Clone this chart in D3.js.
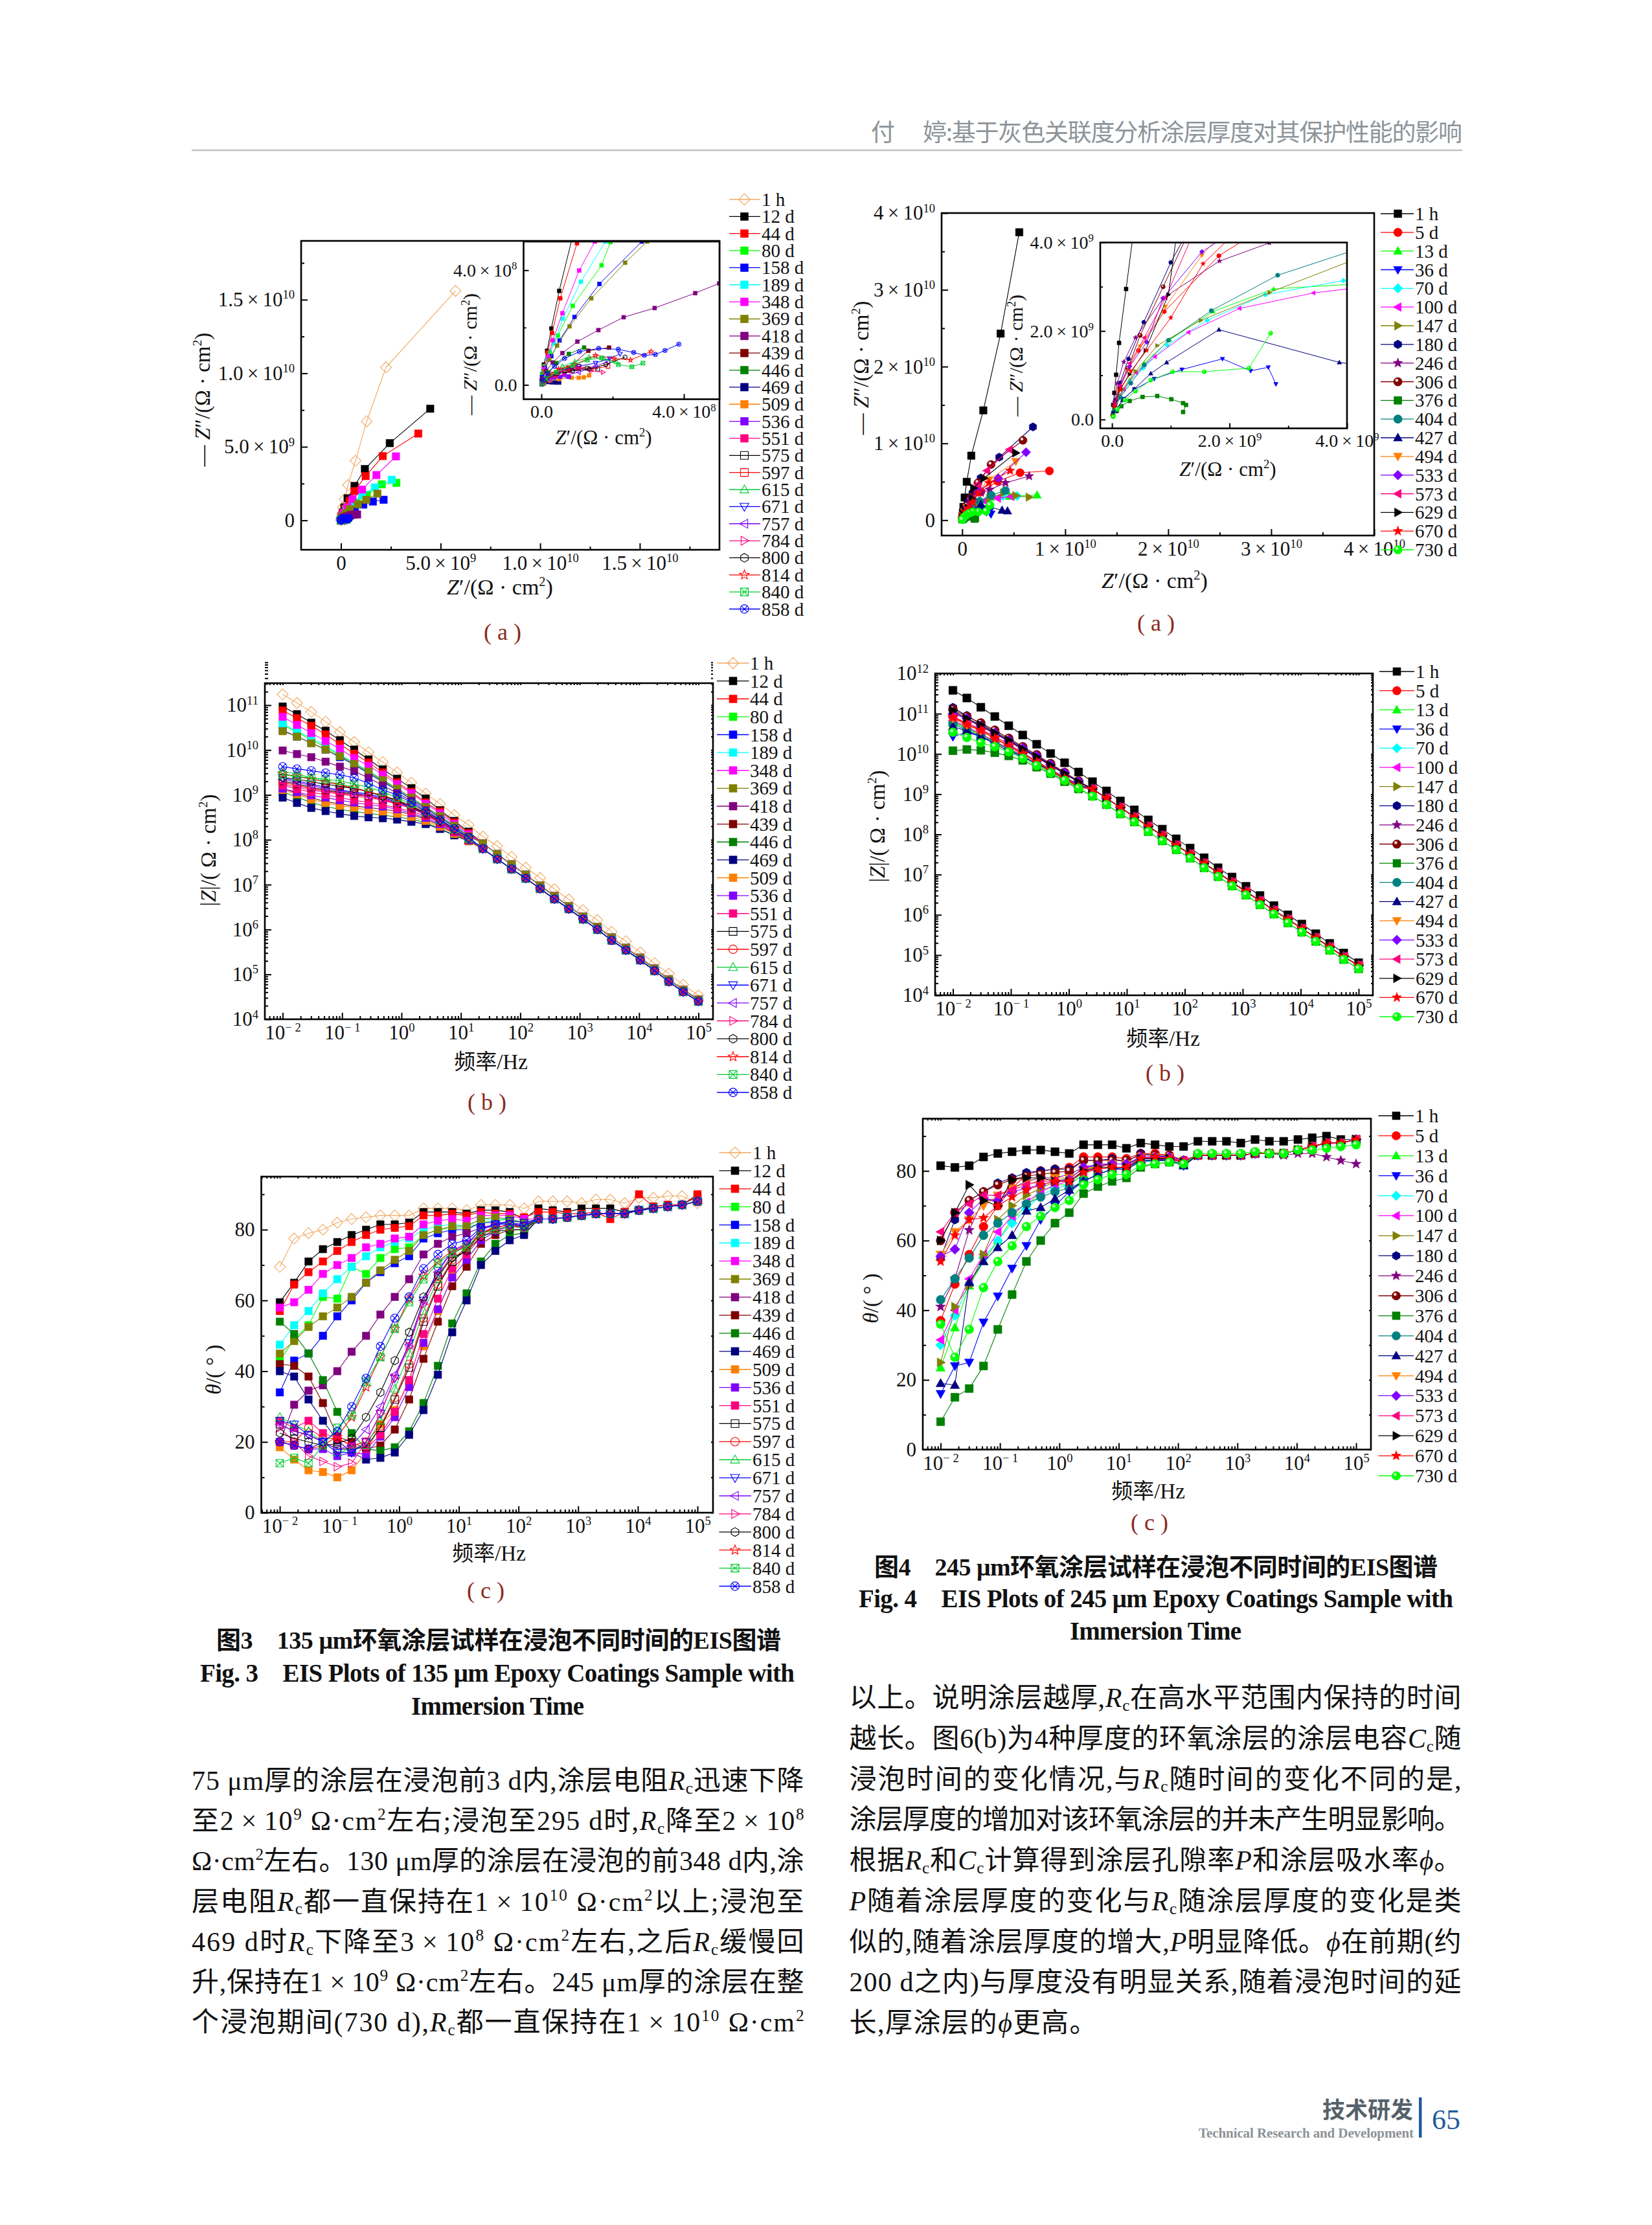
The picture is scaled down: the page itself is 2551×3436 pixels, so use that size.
<!DOCTYPE html>
<html><head><meta charset="utf-8">
<style>html,body{margin:0;background:#fff}svg{display:block}</style>
<script src="https://d3js.org/d3.v7.min.js"></script></head><body>
<script>
const labels135=["1 h","12 d","44 d","80 d","158 d","189 d","348 d","369 d","418 d","439 d","446 d","469 d","509 d","536 d","551 d","575 d","597 d","615 d","671 d","757 d","784 d","800 d","814 d","840 d","858 d"];
const labels245=["1 h","5 d","13 d","36 d","70 d","100 d","147 d","180 d","246 d","306 d","376 d","404 d","427 d","494 d","533 d","573 d","629 d","670 d","730 d"];
const freq=[0.01,0.0174,0.0303,0.0528,0.0919,0.16,0.279,0.485,0.845,1.47,2.56,4.46,7.76,13.5,23.5,41,71.3,124,216,376,655,1140,1985,3456,6016,10470,18230,31700,55250,100000];

// Fig.3(a) Nyquist, units of 1e8 ohm cm2
const nyq135X=[
[57.5,22.6,12.9,7.3,3.5,1.9,1,.6,.2,.02],
[44.8,24.5,12,6.8,3.3,1.7,.9,.5,.28,.16,.07,.03,.01],
[38.8,21,12.4,6.8,4.3,2.2,1,.53,.3,.17,.07,.02],
[27.8,20.5,13,7.5,4.4,1.94,1.69,.88,.46,.24,.09,.02],
[21.4,16,11.2,7,4.4,2.82,1.63,.93,.51,.28,.1,.02],
[25.5,17,10.6,5.8,2.9,1.8,1.11,.6,.35,.17,.05],
[27.6,17.8,10.6,5.8,3.2,1.5,1.06,.59,.32,.19,.06],
[18.3,12.7,8.5,4.4,2.97,2.35,1.4,.79,.44,.22,.07],
[8.1,6.4,4.99,4.32,3.18,2.31,1.6,1.01,.59,.32,.13,.03],
[1.9,1.32,.76,.45,.2,.07],
[1.2,.77,.42,.19,.05],
[.5,.4,.3,.22,.12,.05,.01],
[1.34,1.19,1.05,.85,.5,.25,.08],
[.77,.53,.36,.18,.05],
[1.05,.79,.65,.4,.15,.04],
[1.58,1.29,.94,.65,.3,.08],
[1.87,1.4,1.05,.71,.3,.08],
[2.1,1.75,1.34,.94,.59,.24,.06],
[2.21,1.92,1.52,1.05,.53,.19,.05],
[1.87,1.52,1.05,.65,.24,.05],
[1.73,1.4,1,.53,.19,.04],
[2.35,1.81,1.34,.88,.42,.13,.03],
[3.08,2.5,2.04,1.52,.94,.48,.19,.04],
[2.85,2.54,2.16,1.69,1.29,.88,.42,.13,.03],
[3.86,3.47,3.2,2.89,2.59,2.16,1.61,1.07,.65,.37,.17,.05]];
const nyq135Y=[
[156,104,67.3,40.5,24,14.4,8.8,4.6,1.5,.1],
[75.9,52.5,34.9,23.4,15,8.8,5.3,3.28,1.97,1.19,.71,.38,.17],
[59,43.7,30.1,19.9,13,8,4.94,3.02,1.81,1.13,.65,.33],
[25.5,24.5,17.2,11.9,7.7,4.98,4.17,2.76,1.72,1.13,.65,.33],
[14,12.8,10.7,8.2,6.2,5,3.52,2.37,1.55,1,.6,.28],
[27.6,22.4,17.2,12,7.7,5,3.6,2.31,1.45,.92,.49],
[43.5,30.8,20.9,14.4,8.8,5,3.99,2.5,1.56,.97,.55],
[18.2,14,10.9,7.7,5,4.26,3.02,2.04,1.37,.87,.47],
[4,3.9,3.54,3.2,2.68,2.36,1.91,1.51,1.11,.78,.49,.22],
[1.3,1.19,.6,.38,.2,.08],
[1.3,1.08,.76,.44,.1],
[.08,.08,.09,.1,.1,.07,.02],
[.33,.26,.25,.25,.2,.15,.06],
[.28,.28,.26,.22,.08],
[.58,.49,.38,.3,.2,.06],
[.55,.58,.58,.49,.38,.12],
[.65,.55,.65,.55,.38,.12],
[.81,.92,.97,.81,.65,.38,.1],
[1.08,.92,.76,.65,.49,.28,.08],
[.81,.65,.44,.33,.17,.05],
[.44,.49,.6,.49,.28,.06],
[.97,.71,.55,.49,.38,.19,.05],
[1.16,.87,.92,1.03,.71,.55,.33,.07],
[.76,.63,.71,.94,.87,.68,.44,.22,.05],
[1.42,1.2,1.06,1.03,1.13,1.24,1.27,1.16,.92,.65,.38,.15]];

// Fig.4(a) Nyquist, units of 1e9 ohm cm2
const nyq245X=[
[5.54,3.73,2.05,.88,.44,.24,.12,.07,.04,.02],
[8.47,5.62,3.45,1.82,.89,.45,.27,.14,.06,.01],
[7.27,4.6,2.75,1.72,.98,.55,.3,.13,.04],
[2.79,2.66,2.36,1.88,1.19,.72,.38,.2,.07],
[5.34,3.94,2.61,1.62,.94,.53,.3,.13,.04],
[4.74,3.43,2.17,1.3,.73,.41,.2,.06],
[6.5,5.2,4.02,2.68,1.51,.77,.4,.18,.06],
[6.87,3.6,1.8,1,.54,.28,.14,.06,.02],
[6.5,4.2,2.68,1.83,.87,.4,.2,.09,.04],
[5.9,2.8,1.53,.87,.48,.27,.13,.04],
[1.21,1.26,1.21,1.01,.77,.52,.3,.16,.08,.02],
[4.2,2.82,1.69,.96,.55,.32,.14,.04],
[4.4,3.87,1.82,.93,.66,.38,.18,.06],
[5.2,2.6,1.53,.91,.48,.25,.11,.04],
[6.2,3.5,1.53,.87,.59,.3,.14,.04],
[4.6,2.4,1.53,.91,.55,.3,.13,.04],
[5.2,2.1,1.1,.96,.57,.3,.14,.04],
[4.66,2.6,1.55,1,.59,.32,.14,.04],
[2.7,2.33,1.57,1.03,.66,.4,.22,.09,.02]];
const nyq245Y=[
[37.5,24.3,14.3,8.4,5,2.95,1.73,1.01,.6,.33],
[6.41,6.18,5.06,3.7,2.44,1.56,1.16,.75,.37,.1],
[3.27,3.1,2.95,2.44,1.8,1.27,.89,.54,.23],
[.8,1.18,1.1,1.37,1.13,.92,.68,.47,.23],
[3.15,3.14,2.82,2.24,1.68,1.16,.85,.5,.23],
[3.07,2.86,2.51,1.97,1.42,1.06,.68,.33],
[3,3.2,3.56,2.87,2.24,1.67,1.09,.68,.33],
[12.15,8.2,5.5,3.55,2.2,1.37,.83,.44,.16],
[5.74,4.86,3.99,3.58,2.74,1.85,1.3,.82,.4],
[10.4,7.25,4.86,3,1.9,1.16,.71,.33],
[.17,.33,.37,.46,.53,.51,.42,.3,.19,.09],
[3.86,3.26,2.46,1.79,1.23,.82,.5,.23],
[1.2,1.29,2.03,1.29,1.04,.69,.44,.19],
[7.65,5.26,3.71,2.55,1.65,1.09,.64,.3],
[8.85,5.46,3.79,2.74,1.75,1.2,.75,.33],
[9.2,6.45,4.66,2.75,1.85,1.27,.75,.33],
[8.76,5.46,4.18,2.82,1.56,1.02,.68,.3],
[6.45,4.86,3.52,2.3,1.56,1.09,.68,.3],
[1.95,1.16,1.08,1.08,.89,.64,.44,.23,.06]];

// Fig.3(b) log10|Z|
const z135=[
[11.24,11.05,10.85,10.63,10.40,10.18,9.95,9.73,9.50,9.27,9.03,8.80,8.55,8.33,8.07,7.86,7.62,7.38,7.15,6.90,6.67,6.43,6.21,5.95,5.74,5.49,5.25,5.02,4.77,4.53],
[10.97,10.8,10.61,10.43,10.22,10.01,9.79,9.57,9.36,9.15,8.92,8.66,8.42,8.18],
[10.88,10.71,10.54,10.35,10.13,9.92,9.72,9.5,9.28,9.07,8.83,8.63,8.39,8.15],
[10.56,10.4,10.23,10.06,9.88,9.69,9.49,9.31,9.11,8.9,8.71,8.5,8.3,8.09],
[10.44,10.3,10.16,10.01,9.84,9.67,9.48,9.29,9.11,8.9,8.7,8.49,8.29,8.08],
[10.59,10.42,10.27,10.1,9.9,9.72,9.54,9.34,9.14,8.94,8.73,8.53,8.32,8.1],
[10.74,10.56,10.38,10.2,10.03,9.82,9.65,9.45,9.24,9.04,8.8,8.59,8.35,8.12],
[10.42,10.3,10.15,10.01,9.86,9.69,9.52,9.33,9.14,8.94,8.73,8.53,8.31,8.08],
[9.99,9.91,9.84,9.74,9.63,9.53,9.38,9.21,9.04,8.87,8.66,8.46,8.25,8.06],
[9.14,9.04,8.94,8.85,8.8,8.75,8.72,8.68,8.64,8.56,8.46,8.32,8.15,7.98],
[9.07,8.95,8.83,8.74,8.68,8.63,8.59,8.55,8.51,8.46,8.38,8.25,8.1,7.97],
[8.94,8.82,8.71,8.64,8.58,8.53,8.5,8.48,8.45,8.4,8.35,8.24,8.1,7.97],
[9.11,9.02,8.9,8.82,8.76,8.72,8.66,8.63,8.58,8.51,8.42,8.29,8.13,7.97],
[9.14,9.06,8.99,8.94,8.88,8.83,8.78,8.74,8.68,8.59,8.49,8.35,8.17,7.99],
[9.21,9.13,9.06,9,8.94,8.88,8.83,8.78,8.71,8.63,8.53,8.38,8.18,8.01],
[9.31,9.24,9.17,9.11,9.06,9.02,8.97,8.9,8.81,8.7,8.56,8.39,8.2,8.01],
[9.28,9.21,9.14,9.09,9.04,9,8.97,8.9,8.81,8.7,8.56,8.39,8.2,8.01],
[9.52,9.47,9.38,9.31,9.24,9.17,9.07,8.97,8.9,8.76,8.59,8.42,8.22,8.03],
[9.38,9.31,9.24,9.17,9.11,9.06,9.02,8.94,8.85,8.73,8.59,8.42,8.22,8.01],
[9.35,9.28,9.21,9.14,9.09,9.04,8.99,8.92,8.83,8.72,8.58,8.4,8.22,8.01],
[9.24,9.17,9.11,9.06,9.02,8.97,8.94,8.88,8.8,8.7,8.56,8.39,8.2,8.01],
[9.39,9.35,9.29,9.24,9.19,9.14,9.07,8.97,8.87,8.73,8.59,8.42,8.24,8.03],
[9.47,9.41,9.35,9.29,9.22,9.15,9.07,8.99,8.88,8.76,8.61,8.42,8.24,8.03],
[9.45,9.41,9.38,9.35,9.31,9.24,9.17,9.07,8.94,8.8,8.63,8.44,8.24,8.03],
[9.63,9.58,9.54,9.49,9.45,9.38,9.26,9.11,9,8.83,8.63,8.44,8.25,8.05]];
const zTail135Upper=[7.92,7.68,7.45,7.22,6.98,6.75,6.52,6.29,6.06,5.82,5.59,5.37,5.13,4.89,4.66,4.44];
const zTail135Lower=[7.8,7.57,7.35,7.14,6.91,6.68,6.46,6.23,6,5.76,5.54,5.32,5.08,4.84,4.61,4.4];

// Fig.4(b) log10|Z|
const z245=[
[11.58,11.39,11.16,10.93,10.7,10.47,10.24,10.01,9.78,9.55,9.31,9.08,8.83,8.61,8.36,8.13,7.89,7.66,7.42,7.17,6.94,6.71,6.48,6.23,6,5.77,5.53,5.29,5.05,4.81],
[10.93,10.77,10.61,10.43,10.24,10.03,9.82,9.6,9.37,9.17],
[10.77,10.62,10.47,10.29,10.11,9.93,9.76,9.56,9.37,9.17],
[10.43,10.54,10.43,10.29,10.11,9.93,9.75,9.56,9.39,9.2],
[10.79,10.65,10.47,10.29,10.11,9.94,9.76,9.56,9.37,9.17],
[10.83,10.68,10.5,10.32,10.14,9.96,9.76,9.56,9.37,9.17],
[10.81,10.65,10.48,10.3,10.12,9.95,9.75,9.56,9.37,9.17],
[11.15,10.95,10.75,10.55,10.36,10.16,9.95,9.75,9.53,9.31],
[11.04,10.86,10.68,10.5,10.31,10.11,9.91,9.71,9.51,9.3],
[11.11,10.93,10.77,10.59,10.39,10.18,9.98,9.76,9.54,9.33],
[10.08,10.11,10.09,10.03,9.95,9.84,9.67,9.51,9.31,9.13],
[10.74,10.59,10.44,10.29,10.11,9.94,9.76,9.59,9.4,9.23],
[10.68,10.57,10.43,10.25,10.07,9.93,9.76,9.6,9.42,9.24],
[10.88,10.72,10.57,10.38,10.19,10,9.8,9.6,9.4,9.18],
[11,10.88,10.7,10.52,10.34,10.14,9.95,9.73,9.53,9.31],
[10.9,10.77,10.59,10.39,10.21,10.02,9.82,9.62,9.42,9.2],
[11.08,10.88,10.72,10.52,10.34,10.12,9.93,9.72,9.51,9.3],
[10.91,10.73,10.59,10.39,10.19,10,9.8,9.6,9.39,9.18],
[10.54,10.41,10.28,10.18,10.05,9.89,9.71,9.53,9.34,9.15]];
const zTail245Upper=[9.13,8.9,8.67,8.43,8.2,7.97,7.73,7.51,7.28,7.05,6.81,6.58,6.35,6.11,5.89,5.66,5.43,5.2,4.96,4.74];
const zTail245Lower=[8.95,8.74,8.51,8.31,8.07,7.84,7.62,7.41,7.17,6.95,6.72,6.49,6.25,6.02,5.8,5.57,5.34,5.12,4.89,4.66];

// Fig.3(c) phase, degrees
const th135=[
[69.5,77.5,79,80,82,83,83.5,84,84,84,86,86,86,85.5,87,87,87,86,88,88,88,87.5,88.5,88.5,87.5,89,89,89.5,89.5,87.5],
[59.5,65,71,74.5,76.5,78.5,80,81.5,81.5,82,85,85,85,84.5,85.5,85.5,85,83,86,85.5,85,86,86,86,85,85.5,86.5,87,87,89.5],
[57,64.5,68,71,74,76.5,78.5,80,80.5,81,84,84,84.5,84,85,84.5,84.5,83.5,85,85,84.5,84.5,85,83,85,90,86.5,87,87,90],
[43,49,53,61,60.5,69.5,67.5,72,74.5,75,78.5,80,80.5,80.5,82,82.5,83,82],
[34,43,45,50,55.5,60,65,68,70.5,72.5,77.5,79,80,80,82,82,82,81],
[47.5,53,57,62,66,69.5,72.5,75,76.5,77.5,80,81,81.5,81,83,83,83,82],
[58,59.5,63,67.5,70,72,75,76,77.5,78,81.5,82.5,83,82.5,84,84,84,83],
[45,48.5,52.5,55.5,58,61,65,68.5,71.5,74,78.5,80,81,81,83,83.5,83,82],
[20,30.5,34.5,36,40,45.5,50,56,61,66,73,76,78,79,80.5,81,81,81],
[42,41.5,38.5,31,21.5,20,18,19,23.5,32,43.5,54,64,69.5,76,78.5,80,80],
[54,50.5,45,37.5,28.5,22.5,18,17.5,18.5,23,31,41.5,53.5,62,71,76,78.5,79],
[40,38.5,32,26,20.5,17,15,15.5,17,22,29,39,51,60,70,74,77,78.5],
[18.5,15,12,11.5,10,12,17,25,29,37,47,57,67,74,79,80,81,80.5],
[20,19,18,18,16,17,16.5,21.5,27,35.5,48,57.5,66.5,71.5,77,79.5,81,80.5],
[26,24,26,22.5,21,19,18,22,28.5,37.5,50.5,60.5,69,73,78,80,81,81],
[25,23,22,20,18,18,18.5,24,32,41,54,64,71,74.5,79,80.5,81.5,81],
[20,20,24,21,21,19,20,24.5,32.5,42,55,64.5,71.5,75,79,80.5,81.5,81],
[27,25,23,20,17,18,19,26,35,45,57,66,73,76,80,81.5,82,81.5],
[26,25,22,20,17,17,20,28,38,48,60,68.5,74,76,80,81.5,82.5,82],
[25,23,22,20,18,19,23.5,30,39,47.5,60,68,74,76,80,81.5,82,81.5],
[24,20,16,14.5,13,14,20,28,38,47,59,67,73,76,79,81,81,80.5],
[22.5,21,20,19,19.5,21,27,34,43,51,61,67,72,74,78,79.5,80,80],
[20,19,18,19,21.5,27,35.5,44,52,60.5,67,71,74,75,79,80,81,80.5],
[14,15.5,14,19,24,27.5,37,44,52,59.5,66,70.5,73.5,75,79,80,81,80.5],
[20,19,18,20,23,30,38,47,55,61,69,73,76,77,80.5,81.5,81.5,81]];
const thTail135=[83,83,83.5,84,84.5,84.5,84.5,85.5,86,86.5,87,88];

// Fig.4(c) phase, degrees
const th245=[
[81.5,81,81.5,84,85,85.5,86,86,85.5,85,87.5,87.5,87.5,86.5,88,87.5,87,87,88.5,88.5,88.5,88,89,88.5,88.5,89,89.5,90,89,89],
[37,47.5,56,64,70,75,79,80,80.5,81,84,84,84,83.5,85,85,84.5,83],
[23.5,35,47,54,60,66,70,74,76,76,79,81,82,82,83,83,83,82],
[16,24,25,36.5,44,52,58.5,66,70,74,77,79,80.5,81,83,83,83,81.5],
[30,38.5,47.5,55,60,65,69,73,75,76,80,81,82,82,83.5,83.5,83,82],
[31.5,40,49,56,62.5,67,71,74,76,77,80,81,82,82,83.5,83.5,83,82],
[25,41,47,56,66,70,73,75,77,78,80.5,81.5,82,82,84,84,83.5,82.5],
[55,66,71.5,74,76.5,78,79.5,80,80.5,80.5,83,83,83.5,82.5,85,84.5,84,82],
[41,49,63,72,71,75,77,78,78,79,81,82,82,82,83.5,83.5,83,83,84.5,84.5,84.5,84.5,85,85,84.5,85,85,84,83,82],
[60,68,71.5,74,76,77.5,78.5,79,79.5,80,83,83,83,83,84.5,84.5,84.5,83],
[8,15,17.5,24,34.5,44.5,54,60,65,68,73.5,75.5,77,78,81,82,82.5,82],
[43,49,55,61.5,65,68,70.5,72.5,74,75,77,79,80.5,80.5,82.5,83,83,82],
[19,18.5,48,54,58,61.5,68.5,69.5,72,74.5,77,79,80.5,80.5,83,83,83,81.5],
[56,62.5,66,70,73,75,76.5,77,78,78,80.5,81,82,82,84,84,84,83],
[55.5,57.5,68,72,71.5,74,75,76,77,77.5,81,81.5,82,82,84,84,84,83],
[62.5,68,70.5,73,73,74.5,76,77,77,77,80,80.5,81,81,83.5,83.5,83.5,83],
[60,68,76,71.5,70,77.5,78,78,77,77,80,81,81,81,83.5,83.5,83.5,82.5],
[54,61.5,66,66.5,70,72.5,74.5,76,77,77,79.5,80.5,81,81,83.5,84,83.5,82.5],
[36,26.5,34.5,46.5,54,58.5,64,67,69.5,71.5,76,77.5,79,79,81.5,82,82.5,82,85,85,85,85,85.5,85,85,86,86,86.5,87,87.5]];
const thTail245=[84.5,84.5,84.5,84.5,85,85,85,86,87,88,88,89];

const bodyLeft=["75 μm厚的涂层在浸泡前3 d内,涂层电阻*R*_c_迅速下降","至2×10^9^ Ω·cm^2^左右;浸泡至295 d时,*R*_c_降至2×10^8^","Ω·cm^2^左右。130 μm厚的涂层在浸泡的前348 d内,涂","层电阻*R*_c_都一直保持在1×10^10^ Ω·cm^2^以上;浸泡至","469 d时*R*_c_下降至3×10^8^ Ω·cm^2^左右,之后*R*_c_缓慢回","升,保持在1×10^9^ Ω·cm^2^左右。245 μm厚的涂层在整","个浸泡期间(730 d),*R*_c_都一直保持在1×10^10^ Ω·cm^2^"];
const bodyRight=["以上。说明涂层越厚,*R*_c_在高水平范围内保持的时间","越长。图6(b)为4种厚度的环氧涂层的涂层电容*C*_c_随","浸泡时间的变化情况,与*R*_c_随时间的变化不同的是,","涂层厚度的增加对该环氧涂层的并未产生明显影响。","根据*R*_c_和*C*_c_计算得到涂层孔隙率*P*和涂层吸水率*ϕ*。","*P*随着涂层厚度的变化与*R*_c_随涂层厚度的变化是类","似的,随着涂层厚度的增大,*P*明显降低。*ϕ*在前期(约","200 d之内)与厚度没有明显关系,随着浸泡时间的延","长,厚涂层的*ϕ*更高。"];

const F='"Liberation Serif","Noto Sans CJK SC",serif', FS='"Noto Sans CJK SC",sans-serif';
const color135=["#f0a860","#000","#f00","#0f0","#00f","#0ff","#f0f","#808000","#800080","#800000","#008000","#000080","#ff8000","#8000ff","#ff0080","#000","#f00","#0c3","#00f","#8000ff","#ff0080","#000","#f00","#0c3","#00f"];
const mark135=["dih","sq","sq","sq","sq","sq","sq","sq","sq","sq","sq","sq","sq","sq","sq","sqh","cih","tuh","tdh","tlh","trh","hexh","starh","boxx","cirx"];
const mark135a=mark135.map((m,i)=>i===16?"sqh":m);
const color245=["#000","#f00","#0f0","#00f","#0ff","#f0f","#808000","#000080","#800080","#800000","#008000","#008080","#000080","#ff8000","#8000ff","#ff0080","#000","#f00","#0f0"];
const mark245=["sq","ci","tu","td","di","tl","tr","hex","star","ball","sq","ci","tu","td","di","tl","tr","star","ballg"];

const poly=p=>({draw(c,s){const r=Math.sqrt(s)/2;p.forEach(([a,b],i)=>i?c.lineTo(a*r,b*r):c.moveTo(a*r,b*r));c.closePath();}});
const circ=k=>({draw(c,s){const r=Math.sqrt(s)/2*k;c.moveTo(r,0);c.arc(0,0,r,0,2*Math.PI);}});
const starPts=d3.range(10).map(i=>{const a=-Math.PI/2+i*Math.PI/5,r=i%2?.55:1.3;return[r*Math.cos(a),r*Math.sin(a)]});
const hexPts=d3.range(6).map(i=>{const a=Math.PI/6+i*Math.PI/3;return[1.12*Math.cos(a),1.12*Math.sin(a)]});
const base={sq:poly([[-1,-1],[1,-1],[1,1],[-1,1]]),ci:circ(1.1),tu:poly([[0,-1.2],[1.15,.85],[-1.15,.85]]),td:poly([[0,1.2],[1.15,-.85],[-1.15,-.85]]),tl:poly([[-1.2,0],[.85,-1.15],[.85,1.15]]),tr:poly([[1.2,0],[-.85,-1.15],[-.85,1.15]]),di:poly([[0,-1.25],[1.25,0],[0,1.25],[-1.25,0]]),hex:poly(hexPts),star:poly(starPts),
 box:{draw(c,s){const r=Math.sqrt(s)/2;c.rect(-r,-r,2*r,2*r);c.moveTo(-r,-r);c.lineTo(r,r);c.moveTo(r,-r);c.lineTo(-r,r);}},
 cir:{draw(c,s){const r=Math.sqrt(s)/2*1.1,q=r*.707;c.moveTo(r,0);c.arc(0,0,r,0,2*Math.PI);c.moveTo(-q,-q);c.lineTo(q,q);c.moveTo(q,-q);c.lineTo(-q,q);}}};
const svg=d3.select("body").append("svg").attr("width",2551).attr("height",3436).attr("viewBox","0 0 2551 3436");
let clipN=0;

function rich(sel,str0,size){
  const str=str0.replace(/×/g,"\u2009×\u2009");
  sel.text(null);let shift=0;
  const re=/\*([^*]+)\*|\^([^^]+)\^|_([^_]+)_|([^*^_]+)/g;let m;
  while((m=re.exec(str))){
    const t=sel.append("tspan");let target=0;
    if(m[1]){t.text(m[1]).attr("font-style","italic");}
    else if(m[2]){t.text(m[2]).attr("font-size",size*.6);target=-size*.38;}
    else if(m[3]){t.text(m[3]).attr("font-size",size*.6);target=size*.14;}
    else t.text(m[4]);
    if(target!==shift)t.attr("dy",target-shift);
    shift=target;
  }
}
function label(str,x,y,size,opt={}){
  const t=svg.append("text").attr("x",x).attr("y",y).attr("font-family",opt.family||F).attr("font-size",size).attr("text-anchor",opt.anchor||"middle").attr("fill",opt.fill||"#111");
  if(opt.weight)t.attr("font-weight",opt.weight);
  if(opt.rotate)t.attr("transform",`rotate(-90 ${x} ${y})`);
  rich(t,str,size);
  if(opt.width){const n=t.text().length,w=t.node().getComputedTextLength();t.attr("letter-spacing",((opt.width-w)/(n-1)).toFixed(3));}
  return t;
}
function marker(g,m,col,x,y,s){
  let fill=col,key=m,extra=null;
  if(m.endsWith("h")&&m!=="h"){key=m.slice(0,-1);fill="none";}
  if(m==="boxx"){key="box";fill="none";}
  if(m==="cirx"){key="cir";fill="none";}
  if(m==="ball"){key="ci";extra="#fff";}
  if(m==="ballg"){key="ci";extra="#d8ffd8";}
  g.append("path").attr("d",d3.symbol().type(base[key]).size(s*s)()).attr("transform",`translate(${x},${y})`).attr("fill",fill).attr("stroke",col).attr("stroke-width",fill==="none"?1.1:.6);
  if(extra)g.append("path").attr("d",d3.symbol().type(d3.symbolCircle).size(s*s*.12)()).attr("transform",`translate(${x-s*.14},${y-s*.18})`).attr("fill",extra).attr("opacity",.85);
}
function series(g,xs,ys,x,y,marks,colors,s,lw){
  const id="c"+(clipN++);const[xa,xb]=x.range(),[yb,ya]=y.range();
  g.append("clipPath").attr("id",id).append("rect").attr("x",xa).attr("y",ya).attr("width",xb-xa).attr("height",yb-ya);
  const plot=g.append("g").attr("clip-path",`url(#${id})`);
  const line=d3.line().x(d=>x(d[0])).y(d=>y(d[1]));
  xs.forEach((row,i)=>{
    const pts=row.map((v,j)=>[v,ys[i][j]]);
    plot.append("path").attr("d",line(pts)).attr("fill","none").attr("stroke",colors[i]).attr("stroke-width",lw);
    pts.forEach(p=>marker(plot,marks[i],colors[i],x(p[0]),y(p[1]),marks[i].endsWith("h")&&marks[i][0]==="d"?s*1.18:s));
  });
}
function axes(g,x,y,o){
  const fs=o.font||31,major=o.major||10,minor=o.minor||5;
  const [xa,xb]=x.range(),[yb,ya]=y.range();
  g.append("rect").attr("x",xa).attr("y",ya).attr("width",xb-xa).attr("height",yb-ya).attr("fill","none").attr("stroke","#000").attr("stroke-width",2.6);
  const style=(a,size)=>{a.attr("font-family",F).attr("font-size",size).attr("stroke-width",2);a.selectAll(".domain").remove();a.selectAll(".tick line").attr("stroke","#000");a.selectAll(".tick text").attr("fill","#111");};
  const gx=g.append("g").attr("transform",`translate(0,${yb})`).call(d3.axisBottom(x).tickValues(o.xMaj).tickSize(-major).tickPadding(o.xPad||9).tickFormat((d,i)=>o.xLab[i]));
  style(gx,fs);gx.selectAll(".tick text").each(function(){rich(d3.select(this),this.textContent,fs)});
  const gx2=g.append("g").attr("transform",`translate(0,${yb})`).call(d3.axisBottom(x).tickValues(o.xMin).tickSize(-minor).tickFormat(""));style(gx2,fs);
  const gy=g.append("g").attr("transform",`translate(${xa},0)`).call(d3.axisLeft(y).tickValues(o.yMaj).tickSize(-major).tickPadding(o.yPad||10).tickFormat((d,i)=>o.yLab[i]));
  style(gy,fs);gy.selectAll(".tick text").each(function(){rich(d3.select(this),this.textContent,fs)});
  const gy2=g.append("g").attr("transform",`translate(${xa},0)`).call(d3.axisLeft(y).tickValues(o.yMin).tickSize(-minor).tickFormat(""));style(gy2,fs);
  if(o.mirror){const gt=g.append("g").attr("transform",`translate(0,${ya})`).call(d3.axisTop(x).tickValues(o.xMaj.concat(o.xMin)).tickSize(-3).tickFormat(""));style(gt,fs);
    const gr=g.append("g").attr("transform",`translate(${xb},0)`).call(d3.axisRight(y).tickValues(o.yMaj.concat(o.yMin)).tickSize(-3).tickFormat(""));style(gr,fs);}
}
function legend(labels,marks,colors,o){
  const g=svg.append("g");
  const yp=d3.scaleLinear().domain([0,labels.length-1]).range([o.y0,o.y1]);
  labels.forEach((t,i)=>{
    const y=yp(i);
    g.append("line").attr("x1",o.x0).attr("x2",o.x1).attr("y1",y).attr("y2",y).attr("stroke",colors[i]).attr("stroke-width",1.3);
    marker(g,marks[i],colors[i],o.mx,y,marks[i]==="dih"?14:(o.s||12));
    g.append("text").attr("x",o.tx).attr("y",y+10).attr("font-family",F).attr("font-size",o.fs||29).attr("fill","#111").text(t);
  });
}
const logMaj=(a,b)=>d3.range(a,b+1).map(k=>Math.pow(10,k));
const logMin=(a,b)=>d3.range(a,b+1).flatMap(k=>d3.range(2,10).map(m=>m*Math.pow(10,k)));
const logLab=(a,b)=>d3.range(a,b+1).map(k=>"10^"+(k<0?"− "+(-k):k)+"^");
const scaleRows=(rows,u)=>rows.map(r=>r.map(v=>v*u));
const full=(rows,tail)=>rows.map((r,i)=>r.length===30?r:r.concat(tail(i).slice(r.length-(30-tail(i).length))));
const xFull=rows=>rows.map(()=>freq);

function nyquist(o){
  const g=svg.append("g");
  const x=d3.scaleLinear().domain(o.xd).range([o.f[0],o.f[2]]),y=d3.scaleLinear().domain(o.yd).range([o.f[3],o.f[1]]);
  g.append("rect").attr("x",o.f[0]).attr("y",o.f[1]).attr("width",o.f[2]-o.f[0]).attr("height",o.f[3]-o.f[1]).attr("fill","#fff");
  series(g,o.xs,o.ys,x,y,o.marks,o.colors,o.s,o.lw);
  axes(g,x,y,o.ax);
}
function bode(o){
  const g=svg.append("g");
  const x=d3.scaleLog().domain(o.xd).range([o.f[0],o.f[2]]);
  const y=(o.log?d3.scaleLog():d3.scaleLinear()).domain(o.yd).range([o.f[3],o.f[1]]);
  series(g,xFull(o.ys),o.ys,x,y,o.marks,o.colors,o.s,1.1);
  axes(g,x,y,Object.assign({xMaj:logMaj(-2,5),xMin:logMin(-3,5).filter(v=>v>o.xd[0]&&v<o.xd[1]),xLab:logLab(-2,5),mirror:true},o.ax));
}
const capRed="#8a2b1e";

// header
label("付",1345,218,37,{anchor:"start",fill:"#8d9499",family:FS});
label("婷:基于灰色关联度分析涂层厚度对其保护性能的影响",1425,218,37,{anchor:"start",fill:"#8d9499",family:FS,width:833});
svg.append("line").attr("x1",296).attr("x2",2258).attr("y1",232).attr("y2",232).attr("stroke","#c4c4c4").attr("stroke-width",2.5);

// Fig.3(a)
nyquist({f:[465,372,1111,849],xd:[-2e9,1.9e10],yd:[-2e9,1.9e10],xs:scaleRows(nyq135X,1e8),ys:scaleRows(nyq135Y,1e8),marks:mark135a,colors:color135,s:11.5,lw:1.1,
 ax:{xMaj:[0,5e9,1e10,1.5e10],xLab:["0","5.0×10^9^","1.0×10^10^","1.5×10^10^"],xMin:[2.5e9,7.5e9,1.25e10,1.75e10],yMaj:[0,5e9,1e10,1.5e10],yLab:["0","5.0×10^9^","1.0×10^10^","1.5×10^10^"],yMin:[2.5e9,7.5e9,1.25e10,1.75e10]}});
nyquist({f:[808.5,373,1111,616.5],xd:[-5e7,5e8],yd:[-5e7,5e8],xs:scaleRows(nyq135X.slice(1),1e8),ys:scaleRows(nyq135Y.slice(1),1e8),marks:mark135a.slice(1),colors:color135.slice(1),s:6,lw:1,
 ax:{font:28,major:8,minor:4,xMaj:[0,4e8],xLab:["0.0","4.0×10^8^"],xMin:[2e8],yMaj:[0,4e8],yLab:["0.0","4.0×10^8^"],yMin:[2e8]}});
legend(labels135,mark135a,color135,{x0:1126,x1:1174,mx:1149.5,tx:1176,y0:308,y1:940.5});
label("*Z*′/(Ω · cm^2^)",772,918,34);
label("— *Z*″/(Ω · cm^2^)",324,617,33,{rotate:true});
label("*Z*′/(Ω · cm^2^)",932,686,31);
label("— *Z*″/(Ω · cm^2^)",736,547,30,{rotate:true});
label("( a )",776,988,36,{fill:capRed});

// Fig.4(a)
nyquist({f:[1454,329,2122,827],xd:[-2e9,4e10],yd:[-2e9,4e10],xs:scaleRows(nyq245X,1e9),ys:scaleRows(nyq245Y,1e9),marks:mark245,colors:color245,s:11.5,lw:1.1,
 ax:{xMaj:[0,1e10,2e10,3e10,4e10],xLab:["0","1×10^10^","2×10^10^","3×10^10^","4×10^10^"],xMin:[5e9,1.5e10,2.5e10,3.5e10],yMaj:[0,1e10,2e10,3e10,4e10],yLab:["0","1×10^10^","2×10^10^","3×10^10^","4×10^10^"],yMin:[5e9,1.5e10,2.5e10,3.5e10]}});
nyquist({f:[1699,374.5,2080,661.5],xd:[-2e8,4e9],yd:[-2e8,4e9],xs:scaleRows(nyq245X,1e9),ys:scaleRows(nyq245Y,1e9),marks:mark245,colors:color245,s:6,lw:1,
 ax:{font:28,major:8,minor:4,xMaj:[0,2e9,4e9],xLab:["0.0","2.0×10^9^","4.0×10^9^"],xMin:[1e9,3e9],yMaj:[0,2e9,4e9],yLab:["0.0","2.0×10^9^","4.0×10^9^"],yMin:[1e9,3e9]}});
legend(labels245,mark245,color245,{x0:2132,x1:2183,mx:2158.6,tx:2185,y0:330,y1:849});
label("*Z*′/(Ω · cm^2^)",1783,908,34);
label("— *Z*″/(Ω · cm^2^)",1341,568,33,{rotate:true});
label("*Z*′/(Ω · cm^2^)",1896,735,31);
label("— *Z*″/(Ω · cm^2^)",1579,549,30,{rotate:true});
label("( a )",1785,974,36,{fill:capRed});

// Fig.3(b)
const zRows135=full(z135,i=>i<8?zTail135Upper:zTail135Lower).map(r=>r.map(v=>Math.pow(10,v)));
bode({f:[409,1055,1101,1574],xd:[Math.pow(10,-2.3),Math.pow(10,5.245)],yd:[1e4,Math.pow(10,11.49)],log:true,ys:zRows135,marks:mark135,colors:color135,s:11.5,
 ax:{yMaj:logMaj(4,11),yLab:logLab(4,11),yMin:logMin(4,11)}});
legend(labels135,mark135,color135,{x0:1107,x1:1156.5,mx:1132,tx:1158,y0:1024,y1:1687});
label("频率/Hz",758,1651,33);
label("|*Z*|/( Ω · cm^2^)",333,1313,33,{rotate:true});
label("( b )",752,1714,36,{fill:capRed});

// Fig.4(b)
const zRows245=full(z245,i=>i===18||i===10?zTail245Lower:zTail245Upper).map(r=>r.map(v=>Math.pow(10,v)));
bode({f:[1444,1040,2120,1537],xd:[Math.pow(10,-2.307),Math.pow(10,5.246)],yd:[1e4,1e12],log:true,ys:zRows245,marks:mark245,colors:color245,s:12.5,
 ax:{yMaj:logMaj(4,12),yLab:logLab(4,12),yMin:logMin(4,11)}});
legend(labels245,mark245,color245,{x0:2130,x1:2184,mx:2157,tx:2186,y0:1037,y1:1570});
label("频率/Hz",1796,1615,33);
label("|*Z*|/( Ω · cm^2^)",1366,1276,33,{rotate:true});
label("( b )",1799,1669,36,{fill:capRed});

// Fig.3(c)
bode({f:[403.5,1817,1101,2336],xd:[Math.pow(10,-2.31),Math.pow(10,5.26)],yd:[0,95],ys:full(th135,()=>thTail135),marks:mark135,colors:color135,s:11.5,
 ax:{yMaj:[0,20,40,60,80],yLab:["0","20","40","60","80"],yMin:[10,30,50,70,90]}});
legend(labels135,mark135,color135,{x0:1110.5,x1:1160,mx:1135,tx:1162,y0:1780,y1:2449.5});
label("频率/Hz",755,2410,33);
label("*θ*/( ° )",341,2115,33,{rotate:true});
label("( c )",750,2468,36,{fill:capRed});

// Fig.4(c)
bode({f:[1425,1727.5,2117,2238.5],xd:[Math.pow(10,-2.3),Math.pow(10,5.25)],yd:[0,95],ys:full(th245,()=>thTail245),marks:mark245,colors:color245,s:12.5,
 ax:{yMaj:[0,20,40,60,80],yLab:["0","20","40","60","80"],yMin:[10,30,50,70,90]}});
legend(labels245,mark245,color245,{x0:2128.5,x1:2183,mx:2156,tx:2185,y0:1723,y1:2279});
label("频率/Hz",1773,2314,33);
label("*θ*/( ° )",1356,2005,33,{rotate:true});
label("( c )",1775,2363,36,{fill:capRed});

// captions
const cap={weight:"bold",anchor:"start"};
label("图3　135 μm环氧涂层试样在浸泡不同时间的EIS图谱",334,2546,38,{...cap,width:872});
label("Fig. 3　EIS Plots of 135 μm Epoxy Coatings Sample with",309,2597,39,{...cap,width:918});
label("Immersion Time",635,2648,39,{...cap,width:267});
label("图4　245 μm环氧涂层试样在浸泡不同时间的EIS图谱",1350,2433,38,{...cap,width:870});
label("Fig. 4　EIS Plots of 245 μm Epoxy Coatings Sample with",1326,2482,39,{...cap,width:918});
label("Immersion Time",1652,2532,39,{...cap,width:265});

// body text
const bodyY0=d3.scaleLinear().domain([0,6]).range([2764,3137]);
bodyLeft.forEach((t,i)=>label(t,296,bodyY0(i),42,{anchor:"start",width:945.5}));
const bodyY1=d3.scaleLinear().domain([0,8]).range([2636,3138]);
bodyRight.forEach((t,i)=>label(t,1311.5,bodyY1(i),42,{anchor:"start",width:i===8?382:945}));

// footer
label("技术研发",2182,3271,35,{anchor:"end",weight:"bold",fill:"#55626a",family:FS});
label("Technical Research and Development",2183,3301,21,{anchor:"end",weight:"bold",fill:"#8c9296",width:332});
svg.append("rect").attr("x",2191).attr("y",3239).attr("width",4.5).attr("height",62).attr("fill","#205a9a");
label("65",2233,3288,44,{fill:"#1f5a9a"});
</script></body></html>
